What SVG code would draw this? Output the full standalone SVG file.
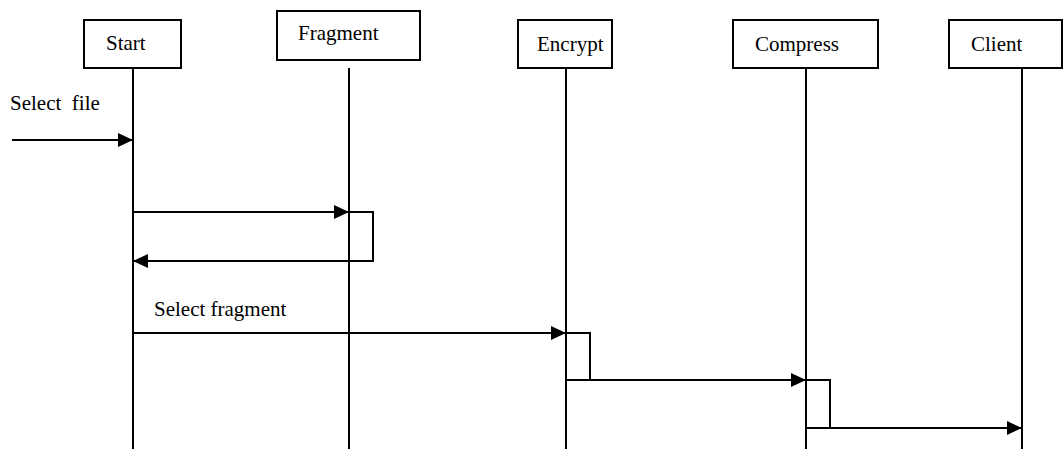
<svg xmlns="http://www.w3.org/2000/svg" width="1063" height="449" viewBox="0 0 1063 449">
  <style>
    .box { fill: #fff; stroke: #000; stroke-width: 2; }
    .life { stroke: #000; stroke-width: 2; fill: none; }
    .msg { stroke: #000; stroke-width: 2; fill: none; }
    text { font-family: 'Liberation Serif', Tinos, 'DejaVu Serif', serif; font-size: 21px; fill: #000; }
  </style>
  <defs>
    <marker id="arrow" markerUnits="userSpaceOnUse" markerWidth="16" markerHeight="14" refX="15" refY="7" orient="auto">
      <path d="M0,0 L15,7 L0,14 Z" fill="#000"/>
    </marker>
  </defs>
  <rect width="1063" height="449" fill="#fff"/>

  <!-- lifelines -->
  <g id="lifelines">
    <line class="life" x1="133" y1="68" x2="133" y2="449"/>
    <line class="life" x1="349" y1="68" x2="349" y2="449"/>
    <line class="life" x1="566" y1="68" x2="566" y2="449"/>
    <line class="life" x1="806" y1="68" x2="806" y2="449"/>
    <line class="life" x1="1022" y1="68" x2="1022" y2="449"/>
  </g>

  <!-- participants -->
  <g id="start">
    <rect class="box" x="84" y="20" width="97" height="48"/>
    <text x="106" y="50">Start</text>
  </g>
  <g id="fragment">
    <rect class="box" x="277" y="11" width="143" height="49"/>
    <text x="298" y="40">Fragment</text>
  </g>
  <g id="encrypt">
    <rect class="box" x="518" y="20" width="94" height="48"/>
    <text x="537" y="51">Encrypt</text>
  </g>
  <g id="compress">
    <rect class="box" x="733" y="20" width="145" height="48"/>
    <text x="755" y="51">Compress</text>
  </g>
  <g id="client">
    <rect class="box" x="949" y="20" width="113" height="48"/>
    <text x="971" y="51">Client</text>
  </g>

  <!-- messages -->
  <g id="connectors">
    <text x="10" y="110" xml:space="preserve">Select  file</text>
    <line class="msg" x1="12" y1="140" x2="133" y2="140" marker-end="url(#arrow)"/>

    <line class="msg" x1="133" y1="212" x2="349" y2="212" marker-end="url(#arrow)"/>
    <polyline class="msg" points="349,212 373,212 373,261 133,261" marker-end="url(#arrow)"/>

    <text x="154" y="316">Select fragment</text>
    <line class="msg" x1="133" y1="333" x2="566" y2="333" marker-end="url(#arrow)"/>
    <polyline class="msg" points="566,333 590,333 590,380 566,380"/>
    <line class="msg" x1="566" y1="380" x2="806" y2="380" marker-end="url(#arrow)"/>
    <polyline class="msg" points="806,380 830,380 830,428 806,428"/>
    <line class="msg" x1="806" y1="428" x2="1022" y2="428" marker-end="url(#arrow)"/>
  </g>
</svg>
